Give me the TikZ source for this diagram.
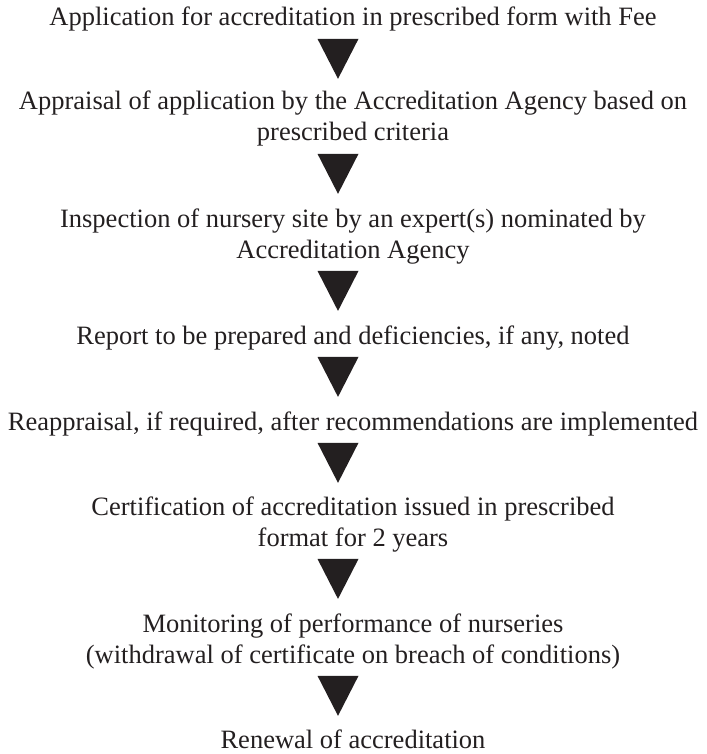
\documentclass[tikz,border=0pt]{standalone}
\usepackage{fontspec}
\setmainfont{Liberation Serif}
\usetikzlibrary{positioning}
\definecolor{inkgray}{HTML}{231F20}

\begin{document}
\begin{tikzpicture}[x=1pt, y=1pt,
	stage/.style={font=\fontsize{26.5}{31}\selectfont, align=center, inner sep=0pt, anchor=base, text=inkgray},
	down arrow/.style={fill=inkgray}]
	\useasboundingbox (0,0) rectangle (706,-754);
	
	\coordinate (tip) at (338,0);
	
	% two-line stages are placed by the baseline of their last line
	\node[stage] (1) at (353,-26) {Application for accreditation in prescribed form with Fee};
	\node[stage] (2) at (353,-141) {Appraisal of application by the Accreditation Agency based on\\prescribed criteria};
	\node[stage] (3) at (353,-258) {Inspection of nursery site by an expert(s) nominated by\\Accreditation Agency};
	\node[stage] (4) at (353,-344) {Report to be prepared and deficiencies, if any, noted};
	\node[stage] (5) at (353,-430) {Reappraisal, if required, after recommendations are implemented};
	\node[stage] (6) at (353,-546) {Certification of accreditation issued in prescribed\\format for 2 years};
	\node[stage] (7) at (353,-663) {Monitoring of performance of nurseries\\(withdrawal of certificate on breach of conditions)};
	\node[stage] (8) at (353,-748) {Renewal of accreditation};
	
	% triangles between the stages
	\foreach \a/\b in {1/2,2/3,3/4,4/5,5/6,6/7,7/8}
	\fill[down arrow] ([yshift=-7pt]\a.south -| tip) ++(-20.5,0) -- ++(41,0) -- ++(-20.5,-40) -- cycle;
\end{tikzpicture}
\end{document}
